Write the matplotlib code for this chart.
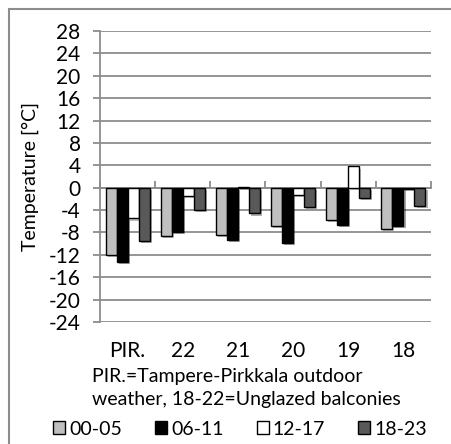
import numpy as np
import matplotlib
matplotlib.use("Agg")
import matplotlib.pyplot as plt
from matplotlib.patches import Rectangle, Patch
import matplotlib.patheffects as pe

plt.rcParams['font.family'] = ['Lato', 'DejaVu Sans']

categories = ['PIR.', '22', '21', '20', '19', '18']
series_names = ['00-05', '06-11', '12-17', '18-23']
t_00_05 = [-12.0, -8.6, -8.5, -6.8, -5.7, -7.3]
t_06_11 = [-13.2, -7.9, -9.3, -9.9, -6.7, -6.9]
t_12_17 = [-5.5, -1.5, 0.15, -1.3, 3.8, -0.3]
t_18_23 = [-9.5, -3.9, -4.6, -3.4, -1.9, -3.3]
series = [t_00_05, t_06_11, t_12_17, t_18_23]
colors = ['#bfbfbf', '#000000', '#ffffff', '#595959']
yticks = list(range(-24, 29, 4))

fs_tick = 15
fs = 14
grid_c = '#8c8c8c'
W, H = 451, 444
fig = plt.figure(figsize=(W / 100, H / 100), dpi=100)
ax = fig.add_axes([100 / W, 1 - 322 / H, 331 / W, 291 / H])

x = np.arange(len(categories))
width = 0.2
shadow = [pe.SimplePatchShadow(offset=(1.5, -1.5), alpha=0.35), pe.Normal()]
for i, (vals, c) in enumerate(zip(series, colors)):
    bars = ax.bar(x - 0.3 + i * width, vals, width, color=c, edgecolor='black',
                  linewidth=1.0, zorder=3, label=series_names[i])
    for b in bars:
        b.set_path_effects(shadow)

ax.set_xlim(-0.5, len(categories) - 0.5)
ax.set_ylim(-24, 28)
ax.set_yticks(yticks)
ax.set_yticklabels([str(v) for v in yticks], fontsize=fs_tick)
ax.yaxis.grid(True, color=grid_c, linewidth=1.3, zorder=0)
ax.set_axisbelow(True)
for s in ['top', 'right', 'bottom']:
    ax.spines[s].set_visible(False)
ax.spines['left'].set_color(grid_c)
ax.spines['left'].set_linewidth(1.3)
ax.tick_params(axis='y', color=grid_c, length=5, width=1.3, pad=9)
ax.set_xticks(x)
ax.set_xticklabels(categories, fontsize=fs_tick)
ax.tick_params(axis='x', length=0, pad=14)
ax.set_ylabel('Temperature [°C]', fontsize=fs, labelpad=7)

# category axis crossing at zero
sec = ax.secondary_xaxis(24 / 52)
sec.set_xticks(np.arange(len(categories) + 1) - 0.5)
sec.set_xticklabels([])
sec.spines['bottom'].set_color(grid_c)
sec.spines['bottom'].set_linewidth(1.3)
sec.tick_params(axis='x', direction='in', length=5, color=grid_c, width=1.3)
sec.spines['top'].set_visible(False)

fig.text(92 / W, 1 - 388 / H,
         'PIR.=Tampere-Pirkkala outdoor\nweather, 18-22=Unglazed balconies',
         fontsize=fs, ha='left', va='center', linespacing=1.45)

handles = [Patch(facecolor=c, edgecolor='black', linewidth=1.0) for c in colors]
fig.legend(handles, series_names, loc='center', bbox_to_anchor=(240 / W, 1 - 429 / H),
           ncol=4, frameon=False, fontsize=fs, handlelength=0.62, handleheight=0.62,
           handletextpad=0.2, columnspacing=1.7, borderaxespad=0, borderpad=0)

fig.patches.append(Rectangle((9 / W, -0.1), 1.2, 1.1 - 9 / H, transform=fig.transFigure,
                             fill=False, edgecolor=grid_c, linewidth=1.5))

fig.savefig('out.png', dpi=100)
